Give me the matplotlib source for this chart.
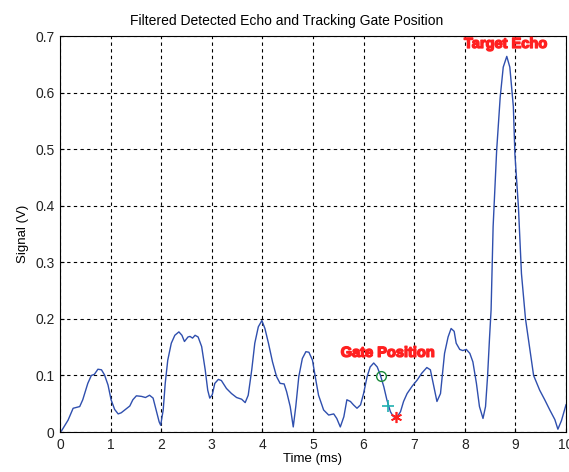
import matplotlib
matplotlib.use('Agg')
import matplotlib.pyplot as plt
import matplotlib.patheffects as pe

# detected echo after filtering
time_ms = [0.0, 0.03, 0.16, 0.26, 0.39, 0.45, 0.55, 0.62, 0.68, 0.75, 0.82, 0.88, 0.95,
           1.01, 1.08, 1.15, 1.21, 1.28, 1.38, 1.44, 1.51, 1.61, 1.69, 1.77, 1.84, 1.90,
           1.96, 1.99, 2.04, 2.08, 2.13, 2.20, 2.27, 2.35, 2.41, 2.46, 2.53, 2.57, 2.62,
           2.67, 2.73, 2.80, 2.87, 2.92, 2.96, 3.01, 3.06, 3.13, 3.19, 3.29, 3.39, 3.49,
           3.59, 3.66, 3.72, 3.79, 3.85, 3.92, 3.99, 4.05, 4.12, 4.20, 4.28, 4.35, 4.43,
           4.48, 4.55, 4.61, 4.66, 4.72, 4.79, 4.86, 4.92, 4.99, 5.05, 5.11, 5.21, 5.31,
           5.41, 5.47, 5.54, 5.61, 5.67, 5.74, 5.80, 5.87, 5.94, 6.00, 6.07, 6.13, 6.20,
           6.27, 6.33, 6.40, 6.46, 6.53, 6.59, 6.66, 6.73, 6.79, 6.86, 6.96, 7.06, 7.15,
           7.25, 7.32, 7.39, 7.45, 7.52, 7.60, 7.67, 7.73, 7.79, 7.83, 7.90, 7.96, 8.03,
           8.10, 8.16, 8.23, 8.29, 8.36, 8.41, 8.45, 8.49, 8.52, 8.56, 8.63, 8.70, 8.76,
           8.83, 8.89, 8.96, 8.99, 9.06, 9.12, 9.20, 9.28, 9.36, 9.48, 9.58, 9.68, 9.78,
           9.84, 9.91, 10.0]
signal_v = [0.0, 0.002, 0.021, 0.042, 0.045, 0.057, 0.086, 0.100, 0.102, 0.111, 0.110,
            0.101, 0.083, 0.057, 0.040, 0.032, 0.034, 0.039, 0.046, 0.057, 0.064, 0.063,
            0.061, 0.065, 0.060, 0.039, 0.018, 0.012, 0.039, 0.086, 0.127, 0.157, 0.171,
            0.177, 0.171, 0.160, 0.168, 0.169, 0.166, 0.171, 0.168, 0.151, 0.110, 0.074,
            0.060, 0.066, 0.086, 0.093, 0.091, 0.077, 0.068, 0.061, 0.058, 0.052, 0.065,
            0.110, 0.157, 0.186, 0.197, 0.183, 0.157, 0.124, 0.098, 0.086, 0.085, 0.071,
            0.045, 0.009, 0.045, 0.098, 0.130, 0.142, 0.141, 0.127, 0.095, 0.065, 0.039,
            0.030, 0.032, 0.024, 0.009, 0.027, 0.057, 0.054, 0.048, 0.042, 0.048, 0.068,
            0.098, 0.115, 0.122, 0.115, 0.101, 0.080, 0.057, 0.036, 0.027, 0.026, 0.036,
            0.054, 0.068, 0.081, 0.092, 0.104, 0.114, 0.110, 0.080, 0.054, 0.068, 0.139,
            0.168, 0.183, 0.178, 0.157, 0.146, 0.144, 0.146, 0.139, 0.124, 0.086, 0.045,
            0.024, 0.045, 0.098, 0.168, 0.216, 0.363, 0.498, 0.592, 0.645, 0.664, 0.645,
            0.575, 0.492, 0.398, 0.280, 0.200, 0.150, 0.100, 0.074, 0.057, 0.039, 0.022,
            0.005, 0.020, 0.048]

# tracking gate: early / centre / late samples
gate_circle = (6.34, 0.0995)
gate_plus = (6.48, 0.046)
gate_star = (6.65, 0.027)

plt.rcParams['font.family'] = ['Liberation Sans', 'DejaVu Sans']

fig = plt.figure(figsize=(5.69, 4.72), dpi=100)
ax = fig.add_axes([0.1054, 0.0847, 0.8893, 0.839])

ax.plot(time_ms, signal_v, color='#2f4fae', linewidth=1.0)
ax.plot(*gate_circle, marker='o', markersize=7, markerfacecolor='none',
        markeredgecolor='#1a8a3a', markeredgewidth=1.0, linestyle='none')
ax.plot(*gate_plus, marker='+', markersize=9, color='#20b0b0',
        markeredgewidth=1.2, linestyle='none')
ax.plot(*gate_star, marker=(6, 2, 0), markersize=8, color='#ff2020',
        markeredgewidth=1.2, linestyle='none')

bold = [pe.withStroke(linewidth=1.0, foreground='#ff2020')]
ax.text(6.48, 0.140, 'Gate Position', color='#ff2020', fontweight='bold',
        fontsize=10.5, ha='center', va='center', path_effects=bold)
ax.text(8.81, 0.686, 'Target Echo', color='#ff2020', fontweight='bold',
        fontsize=10.5, ha='center', va='center', path_effects=bold)

ax.set_xlim(0, 10)
ax.set_ylim(0, 0.7)
ax.set_xticks(range(0, 11))
ax.set_yticks([0, 0.1, 0.2, 0.3, 0.4, 0.5, 0.6, 0.7])
ax.set_yticklabels(['0', '0.1', '0.2', '0.3', '0.4', '0.5', '0.6', '0.7'])
ax.grid(True, color='black', linestyle=(0, (3, 3)), linewidth=0.8)
ax.tick_params(direction='in', length=3, labelsize=10, pad=4, labelcolor='#222222')
for s in ax.spines.values():
    s.set_linewidth(0.8)

ax.set_title('Filtered Detected Echo and Tracking Gate Position', fontsize=10, pad=8, x=0.447)
ax.set_xlabel('Time (ms)', fontsize=9.5, labelpad=1)
ax.set_ylabel('Signal (V)', fontsize=9.5, labelpad=4)

fig.savefig('out.png', dpi=100)
